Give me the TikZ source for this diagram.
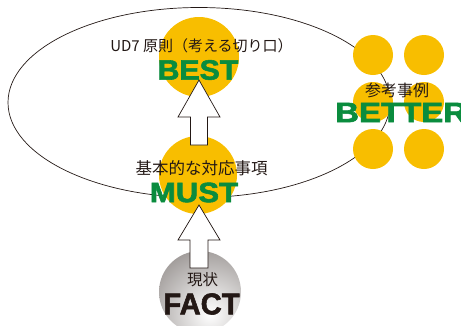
\documentclass[tikz,border=0pt]{standalone}
\usepackage{fontspec}
\setmainfont{Liberation Sans}
\newfontfamily\cjkfont{Noto Sans CJK JP}
\newfontfamily\heavyfont{Liberation Sans Bold}[FakeBold=2]
\definecolor{udyellow}{HTML}{F8BE00}
\definecolor{udgreen}{HTML}{0A8C3E}
\definecolor{udgray}{HTML}{9E9997}
\definecolor{udtext}{HTML}{231815}
\tikzset{
  goal/.style={circle, fill=udyellow, draw=none, minimum size=80pt, inner sep=0pt},
  dot/.style={circle, fill=udyellow, draw=none, minimum size=40pt, inner sep=0pt},
  jlabel/.style={inner sep=0pt, text=udtext, font=\cjkfont\fontsize{15}{15}\selectfont},
  bigword/.style={inner sep=0pt, text=udgreen, font=\heavyfont\fontsize{28}{28}\selectfont, xscale=1.08},
  uparrow/.style={fill=white, draw=udtext, line width=0.7pt, line join=miter},
}
\begin{document}
\begin{tikzpicture}[x=1pt,y=-1pt]
\useasboundingbox (0,0) rectangle (461,325);
% ellipse
\draw[udtext, line width=0.7pt] (199,102.5) ellipse [x radius=191, y radius=95];
% circles
\node[goal] (best) at (199,57) {};
\node[goal, minimum size=78pt] (must) at (198,175) {};
\node[circle, minimum size=82pt, inner sep=0pt] (fact) at (200,292) {};
\begin{scope}
  \clip (fact.center) circle (41);
  \shade[inner color=white, outer color=udgray] (fact.center) ++(10,22) circle (68);
\end{scope}
\foreach \c/\x/\y in {a/373/55, b/424/55, c/373/102, d/424/102, e/373/149, f/424/149}
  \node[dot] (dot\c) at (\x,\y) {};
% arrows
\draw[uparrow] (best.center) ++(0,23) coordinate (tip1)
  -- ++(21,37) -- ++(-12.5,0) -- ++(0,28) -- ++(-17,0) -- ++(0,-28) -- ++(-12.5,0) -- cycle;
\draw[uparrow] (must.center) ++(1,30) coordinate (tip2)
  -- ++(21,35) -- ++(-12,0) -- ++(0,28) -- ++(-18,0) -- ++(0,-28) -- ++(-12,0) -- cycle;
% texts
\node[jlabel] (t1) at (201.5,46) {UD7 原則（考える切り口）};
\node[bigword] (w1) at (198,70) {BEST};
\node[jlabel, font=\cjkfont\fontsize{16.5}{16.5}\selectfont] (t2) at (201.5,168) {基本的な対応事項};
\node[bigword, xscale=1.03] (w2) at (194,192.5) {MUST};
\node[jlabel, font=\cjkfont\fontsize{16}{16}\selectfont] (t3) at (397,90) {参考事例};
\node[bigword, anchor=west, xscale=1.09] (w3) at (335,112.5) {BETTER};
\node[jlabel, font=\cjkfont\fontsize{15.5}{15.5}\selectfont] (t4) at (202.5,280) {現状};
\node[bigword, text=udtext, font=\heavyfont\fontsize{30}{30}\selectfont, xscale=0.9] (w4) at (201.5,304) {FACT};
\end{tikzpicture}
\end{document}
